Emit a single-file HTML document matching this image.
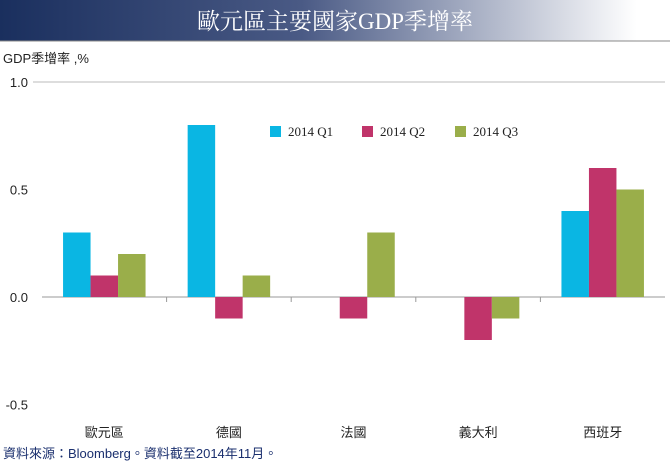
<!DOCTYPE html>
<html><head><meta charset="utf-8"><style>
body{margin:0;width:670px;height:470px;background:#fff;overflow:hidden;font-family:"Liberation Sans","Noto Sans CJK TC",sans-serif}
</style></head><body>
<svg width="670" height="470">
<defs><linearGradient id="g" x1="0" x2="1"><stop offset="0" stop-color="#1a2f5e"/><stop offset="0.45" stop-color="#4a5a85"/><stop offset="0.95" stop-color="#ffffff"/></linearGradient></defs>
<rect x="0" y="0" width="670" height="41" fill="url(#g)"/>
<line x1="0" y1="41" x2="670" y2="41" stroke="#888" stroke-width="1"/>
<text x="335" y="29" text-anchor="middle" fill="#fff" font-size="23" font-family="Liberation Serif,'Noto Serif CJK SC',serif">歐元區主要國家GDP季增率</text>
<text x="3" y="63" font-size="13" fill="#222">GDP季增率 ,%</text>
<g id="axes"></g><g id="bars"></g>
<g font-family="Liberation Serif,serif" font-size="13" fill="#222">
<rect x="270" y="126" width="11" height="11" fill="#0ab6e3"/><text x="288" y="136">2014 Q1</text>
<rect x="362" y="126" width="11" height="11" fill="#c0346a"/><text x="380" y="136">2014 Q2</text>
<rect x="455" y="126" width="11" height="11" fill="#9aae4a"/><text x="473" y="136">2014 Q3</text>
</g>
<text x="3" y="458" font-size="13" fill="#1a2f6e">資料來源：Bloomberg。資料截至2014年11月。</text>
</svg>
<script>
const categories=["歐元區","德國","法國","義大利","西班牙"];
const q1=[0.3,0.8,0,0,0.4];
const q2=[0.1,-0.1,-0.1,-0.2,0.6];
const q3=[0.2,0.1,0.3,-0.1,0.5];
const ticks=[1.0,0.5,0.0,-0.5];
const colors=["#0ab6e3","#c0346a","#9aae4a"];
const ns="http://www.w3.org/2000/svg";
const x0=42,x1=665,gw=(x1-x0)/categories.length,bw=27.5;
const y=v=>297-v*215;
const ax=document.getElementById("axes"),bg=document.getElementById("bars");
function mk(t,a,p){const e=document.createElementNS(ns,t);for(const k in a)e.setAttribute(k,a[k]);p.appendChild(e);return e;}
ticks.forEach(t=>{
 const tx=mk("text",{x:28,y:y(t)+5,"text-anchor":"end","font-size":13,fill:"#222"},ax);
 
 
 tx.textContent=t.toFixed(1);
});
const gl=mk("line",{x1:33,x2:x1,y1:y(1),y2:y(1),stroke:"#bbb"},ax);


[q1,q2,q3].forEach((s,si)=>s.forEach((v,i)=>{
 if(v===0)return;
 const bx=x0+gw*i+(gw-3*bw)/2+si*bw;
 const r=mk("rect",{x:bx,y:Math.min(y(v),y(0)),width:bw,height:Math.abs(y(v)-y(0)),fill:colors[si]},bg);
 
 
}));
const za=mk("line",{x1:x0,x2:x1,y1:y(0),y2:y(0),stroke:"#999"},ax);


categories.forEach((c,i)=>{
 if(i>0){const tk=mk("line",{x1:x0+gw*i,x2:x0+gw*i,y1:y(0),y2:y(0)+5,stroke:"#999"},ax);
 
 }
 const t=mk("text",{x:x0+gw*i+gw/2,y:437,"text-anchor":"middle","font-size":13,fill:"#222"},ax);
 
 
 t.textContent=c;
});
</script>
</body></html>
